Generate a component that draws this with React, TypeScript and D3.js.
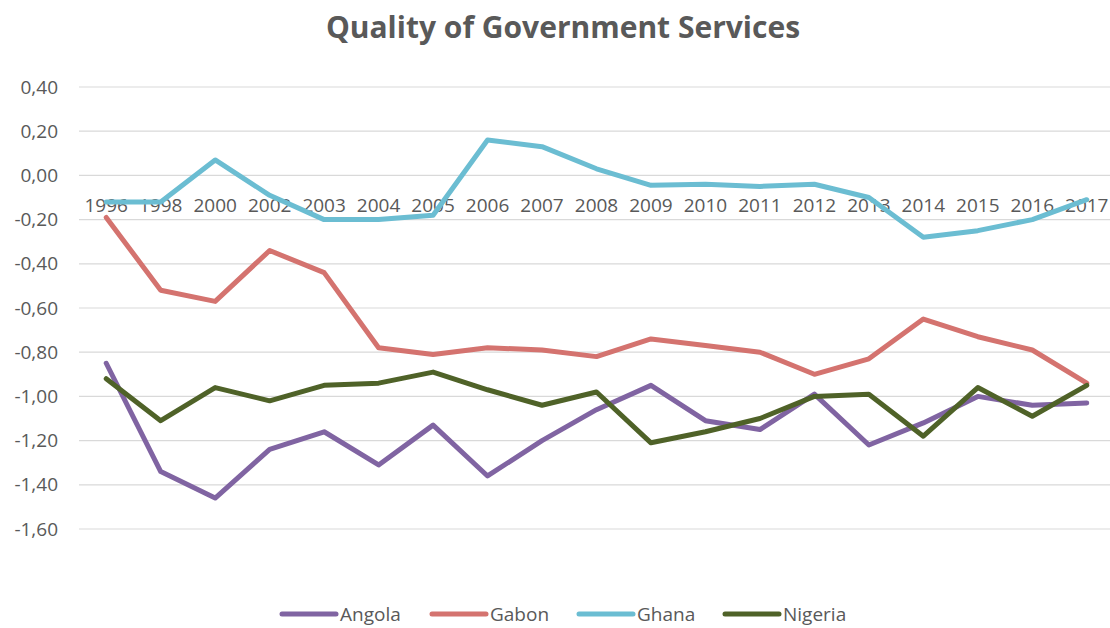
import React from "react";
import * as d3 from "d3";

const years = ["1996","1998","2000","2002","2003","2004","2005","2006","2007","2008","2009","2010","2011","2012","2013","2014","2015","2016","2017"];
const angola = [-0.85,-1.34,-1.46,-1.24,-1.16,-1.31,-1.13,-1.36,-1.20,-1.06,-0.95,-1.11,-1.15,-0.99,-1.22,-1.12,-1.00,-1.04,-1.03];
const gabon = [-0.19,-0.52,-0.57,-0.34,-0.44,-0.78,-0.81,-0.78,-0.79,-0.82,-0.74,-0.77,-0.80,-0.90,-0.83,-0.65,-0.73,-0.79,-0.94];
const ghana = [-0.12,-0.12,0.07,-0.09,-0.20,-0.20,-0.18,0.16,0.13,0.03,-0.045,-0.04,-0.05,-0.04,-0.10,-0.28,-0.25,-0.20,-0.11];
const nigeria = [-0.92,-1.11,-0.96,-1.02,-0.95,-0.94,-0.89,-0.97,-1.04,-0.98,-1.21,-1.16,-1.10,-1.00,-0.99,-1.18,-0.96,-1.09,-0.95];
const yTicks = [0.4,0.2,0,-0.2,-0.4,-0.6,-0.8,-1.0,-1.2,-1.4,-1.6];

const seriesNames = ["Angola","Gabon","Ghana","Nigeria"];
const seriesValues = [angola, gabon, ghana, nigeria];
const seriesColors = ["#8064a2","#d4736f","#6bbdd2","#4f6228"];

const W = 1110, H = 628;
const FONT = "'Open Sans', sans-serif";
const TXT = "#595959";

export default function App() {
  const x = d3.scalePoint<string>().domain(years).range([79, 1114]).padding(0.5);
  const y = d3.scaleLinear().domain([-1.6, 0.4]).range([529, 87]);
  const line = d3.line<number>().x((_, i) => x(years[i]) as number).y(d => y(d));
  const fmt = (v: number) => v.toFixed(2).replace(".", ",").replace("-0,00", "0,00");

  const legendX = [282, 432, 579, 725];

  return (
    <svg width={W} height={H} style={{ position: "absolute", left: 0, top: 0, background: "#fff" }} fontFamily={FONT}>
      <text x={563} y={38} textAnchor="middle" fontSize={30} fontWeight="bold" fill={TXT}>Quality of Government Services</text>
      {yTicks.map(t => (
        <g key={t}>
          <line x1={79} x2={1114} y1={y(t)} y2={y(t)} stroke="#d9d9d9" strokeWidth={1.2} />
          <text x={58} y={y(t)} dy="0.35em" textAnchor="end" fontSize={19} fill={TXT}>{fmt(t)}</text>
        </g>
      ))}
      {years.map(yr => (
        <text key={yr} x={x(yr)} y={y(0) + 37} textAnchor="middle" fontSize={19} fill={TXT}>{yr}</text>
      ))}
      {seriesValues.map((vals, i) => (
        <path key={seriesNames[i]} d={line(vals) || ""} fill="none" stroke={seriesColors[i]} strokeWidth={5} strokeLinejoin="round" strokeLinecap="round" />
      ))}
      {seriesNames.map((n, i) => (
        <g key={n}>
          <line x1={legendX[i]} x2={legendX[i] + 54} y1={614} y2={614} stroke={seriesColors[i]} strokeWidth={5} strokeLinecap="round" />
          <text x={legendX[i] + 58} y={614} dy="0.35em" fontSize={19} fill={TXT}>{n}</text>
        </g>
      ))}
    </svg>
  );
}
